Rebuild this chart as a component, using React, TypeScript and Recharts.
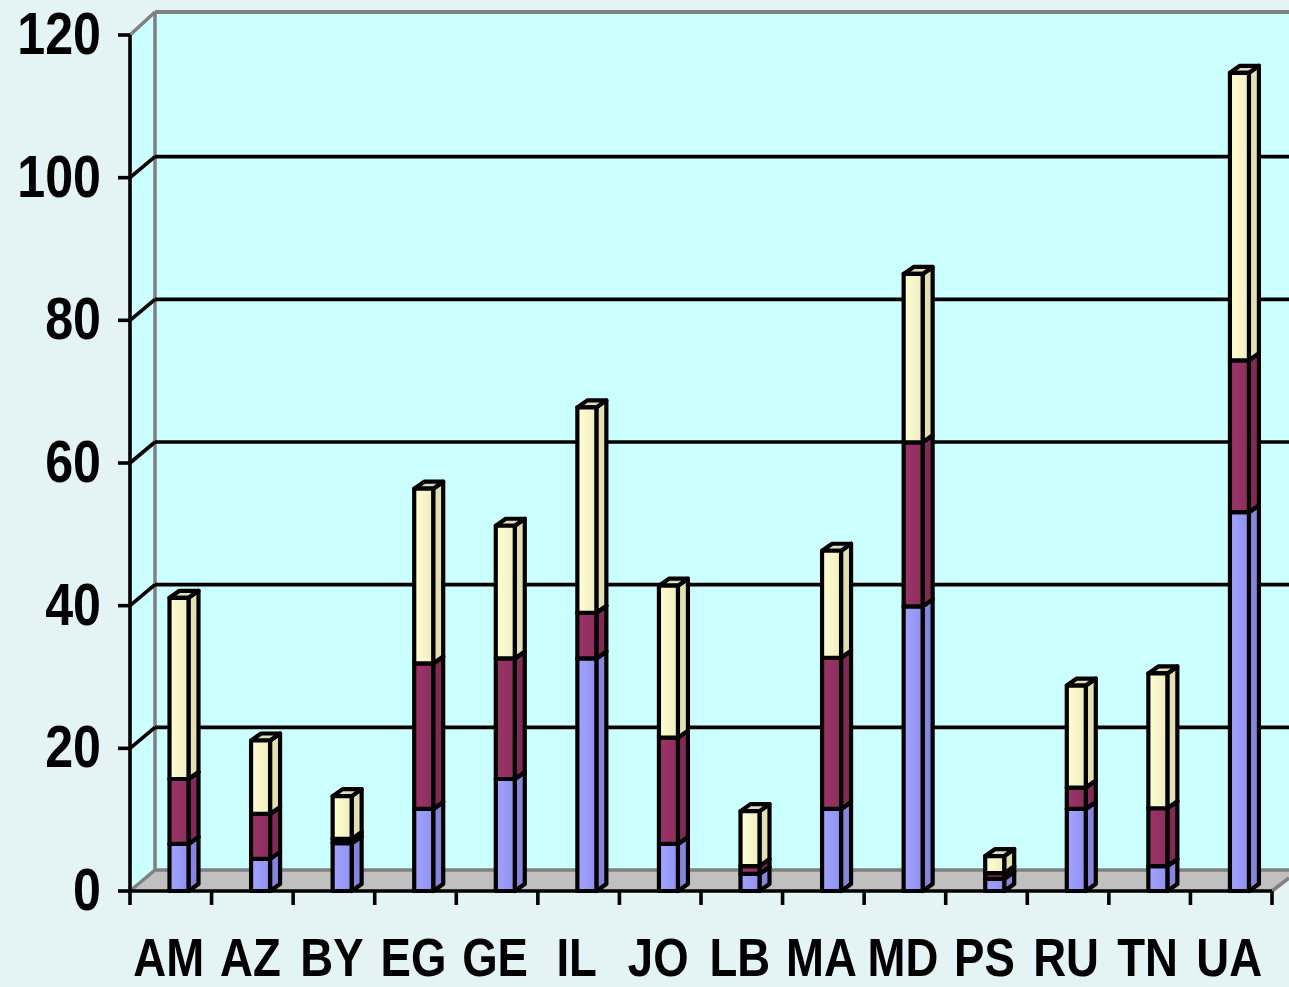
import React from 'react';
import { BarChart, Bar, XAxis, YAxis, CartesianGrid } from 'recharts';

const countries = ['AM', 'AZ', 'BY', 'EG', 'GE', 'IL', 'JO', 'LB', 'MA', 'MD', 'PS', 'RU', 'TN', 'UA'];
const seriesBlue = [6.6, 4.5, 6.7, 11.5, 15.7, 32.6, 6.6, 2.4, 11.5, 39.9, 1.7, 11.5, 3.5, 53.1];
const seriesMaroon = [9.1, 6.3, 0.6, 20.4, 16.9, 6.4, 14.9, 1.1, 21.2, 23.0, 0.8, 3.0, 8.1, 21.3];
const seriesYellow = [25.4, 10.3, 6.0, 24.5, 18.6, 28.8, 21.3, 7.7, 15.0, 23.6, 2.4, 14.3, 18.9, 40.3];
const yTicks = [0, 20, 40, 60, 80, 100, 120];

const data = countries.map((c, i) => ({
  name: c,
  blue: seriesBlue[i],
  maroon: seriesMaroon[i],
  yellow: seriesYellow[i],
}));

const W = 1289;
const H = 987;
const M = { top: 35, right: 17, left: 10, bottom: 16 };
const Y_AXIS_W = 120;
const X_AXIS_H = 80;
const PLOT_LEFT = M.left + Y_AXIS_W;
const PLOT_RIGHT = W - M.right;
const PLOT_TOP = M.top;
const PLOT_BOTTOM = H - M.bottom - X_AXIS_H;
const BAND = (PLOT_RIGHT - PLOT_LEFT) / countries.length;
const WDX = 25; // wall depth
const WDY = 21;
const BDX = 10; // bar depth
const BDY = 7;
const FRONT_W = 19;
const STROKE = 4.2;
const LINE_W = 3.6;

const FONT = '"Liberation Sans", Arial, sans-serif';

const makeShape = (id: string, side: string, top: string) => (p: any) => {
  const { x, y, width, height } = p;
  if (height == null || !(height > 0)) return <g />;
  const fx = x + width / 2 - 1;
  const fw = FRONT_W;
  const b = y + height;
  const frontPts = `${fx},${y} ${fx + fw},${y} ${fx + fw},${b} ${fx},${b}`;
  const sidePts = `${fx + fw},${y} ${fx + fw + BDX},${y - BDY} ${fx + fw + BDX},${b - BDY} ${fx + fw},${b}`;
  const topPts = `${fx},${y} ${fx + BDX},${y - BDY} ${fx + fw + BDX},${y - BDY} ${fx + fw},${y}`;
  return (
    <g>
      <polygon points={sidePts} fill={side} stroke="#000" strokeWidth={STROKE} strokeLinejoin="round" />
      <polygon points={topPts} fill={top} stroke="#000" strokeWidth={STROKE} strokeLinejoin="round" />
      <polygon points={frontPts} fill={`url(#${id})`} stroke="#000" strokeWidth={STROKE} strokeLinejoin="round" />
    </g>
  );
};

const blueShape = makeShape('gBlue', '#8585dc', '#b8b8ff');
const maroonShape = makeShape('gMaroon', '#802a55', '#a84a78');
const yellowShape = makeShape('gYellow', '#e2dfb2', '#deddb8');

const gridLine = (p: any) => {
  const { x1, y1 } = p;
  if (Math.abs(y1 - PLOT_BOTTOM) < 2 || Math.abs(y1 - PLOT_TOP) < 2) return <g />;
  return (
    <g>
      <line x1={x1} y1={y1} x2={x1 + WDX} y2={y1 - WDY} stroke="#000" strokeWidth={LINE_W} />
      <line x1={x1 + WDX} y1={y1 - WDY} x2={W} y2={y1 - WDY} stroke="#000" strokeWidth={LINE_W} />
    </g>
  );
};

const YTick = (p: any) => {
  const { y, payload } = p;
  return (
    <text
      transform={`translate(${PLOT_LEFT - 29},${y + 19}) scale(0.88,1.03)`}
      textAnchor="end"
      fontFamily={FONT}
      fontWeight="bold"
      fontSize={57}
      fill="#000"
    >
      {payload.value}
    </text>
  );
};

const XTick = (p: any) => {
  const { x, payload, index } = p;
  const last = index === countries.length - 1;
  return (
    <g>
      <line x1={x - BAND / 2} y1={PLOT_BOTTOM} x2={x - BAND / 2} y2={PLOT_BOTTOM + 14} stroke="#000" strokeWidth={LINE_W} />
      {last && (
        <line x1={x + BAND / 2} y1={PLOT_BOTTOM} x2={x + BAND / 2} y2={PLOT_BOTTOM + 14} stroke="#000" strokeWidth={LINE_W} />
      )}
      <text
        transform={`translate(${x - 2},976) scale(0.86,1.02)`}
        textAnchor="middle"
        fontFamily={FONT}
        fontWeight="bold"
        fontSize={53}
        fill="#000"
      >
        {payload.value}
      </text>
    </g>
  );
};

const Walls = () => {
  const bx = PLOT_LEFT + WDX;
  const topBack = PLOT_TOP - WDY - 2;
  const floorBack = PLOT_BOTTOM - WDY;
  const rx = PLOT_RIGHT;
  return (
    <svg width={W} height={H} style={{ position: 'absolute', left: 0, top: 0 }}>
      <rect x={0} y={0} width={W} height={H} fill="#e4f3f3" />
      <polygon points={`${bx},${topBack} ${W},${topBack} ${W},${floorBack} ${bx},${floorBack}`} fill="#ccffff" />
      <polygon
        points={`${PLOT_LEFT},${PLOT_TOP} ${bx},${topBack} ${bx},${floorBack} ${PLOT_LEFT},${PLOT_BOTTOM}`}
        fill="#ccffff"
      />
      <polygon
        points={`${PLOT_LEFT},${PLOT_BOTTOM} ${bx},${floorBack} ${W},${floorBack} ${W},${PLOT_BOTTOM - 13} ${rx},${PLOT_BOTTOM}`}
        fill="#c0c0c0"
      />
      <line x1={bx} y1={topBack} x2={W} y2={topBack} stroke="#808080" strokeWidth={4} />
      <line x1={bx} y1={topBack} x2={bx} y2={floorBack} stroke="#808080" strokeWidth={3.5} />
      <line x1={PLOT_LEFT} y1={PLOT_TOP} x2={bx} y2={topBack} stroke="#808080" strokeWidth={3.5} />
      <line x1={bx} y1={floorBack} x2={W} y2={floorBack} stroke="#808080" strokeWidth={3.5} />
      <line x1={PLOT_LEFT} y1={PLOT_BOTTOM} x2={bx} y2={floorBack} stroke="#808080" strokeWidth={3.5} />
      <line x1={rx} y1={PLOT_BOTTOM} x2={W} y2={PLOT_BOTTOM - 13} stroke="#808080" strokeWidth={3.5} />
    </svg>
  );
};

export default function App() {
  return (
    <div style={{ position: 'absolute', left: 0, top: 0, width: W, height: H }}>
      <Walls />
      <div style={{ position: 'absolute', left: 0, top: 0 }}>
        <BarChart width={W} height={H} data={data} margin={M} barSize={FRONT_W}>
          <defs>
            <linearGradient id="gBlue" x1="0" y1="0" x2="1" y2="0">
              <stop offset="0" stopColor="#a3a3ff" />
              <stop offset="1" stopColor="#9090f0" />
            </linearGradient>
            <linearGradient id="gMaroon" x1="0" y1="0" x2="1" y2="0">
              <stop offset="0" stopColor="#9c3468" />
              <stop offset="1" stopColor="#8c2e5e" />
            </linearGradient>
            <linearGradient id="gYellow" x1="0" y1="0" x2="1" y2="0">
              <stop offset="0" stopColor="#ffffd2" />
              <stop offset="1" stopColor="#efecc0" />
            </linearGradient>
          </defs>
          <CartesianGrid horizontal={gridLine} vertical={false} />
          <XAxis
            dataKey="name"
            height={X_AXIS_H}
            axisLine={{ stroke: '#000', strokeWidth: LINE_W }}
            tickLine={false}
            tick={XTick}
            interval={0}
          />
          <YAxis
            width={Y_AXIS_W}
            domain={[0, 120]}
            ticks={yTicks}
            axisLine={{ stroke: '#000', strokeWidth: LINE_W }}
            tickLine={{ stroke: '#000', strokeWidth: LINE_W }}
            tickSize={12}
            tick={YTick}
          />
          <Bar dataKey="blue" stackId="a" fill="#9999ff" shape={blueShape} isAnimationActive={false} />
          <Bar dataKey="maroon" stackId="a" fill="#993366" shape={maroonShape} isAnimationActive={false} />
          <Bar dataKey="yellow" stackId="a" fill="#ffffcc" shape={yellowShape} isAnimationActive={false} />
        </BarChart>
      </div>
    </div>
  );
}
